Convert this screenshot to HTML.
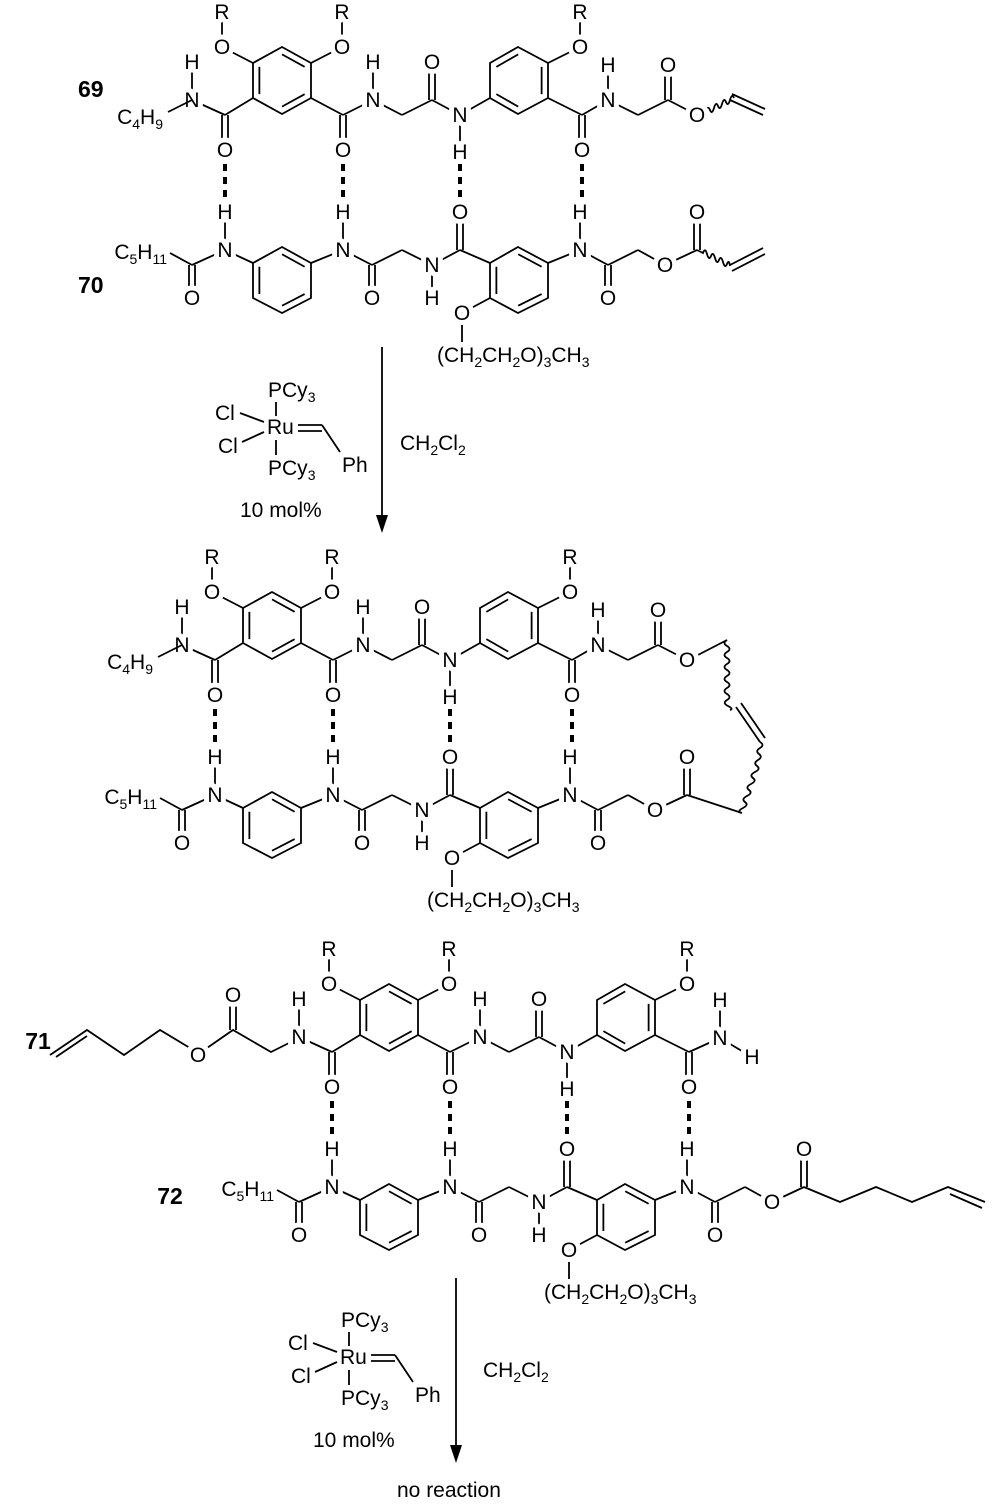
<!DOCTYPE html>
<html><head><meta charset="utf-8"><style>
html,body{margin:0;padding:0;background:#fff}
svg{display:block}
text{font-family:"Liberation Sans",sans-serif;font-size:21px;fill:#000;stroke:#fff;stroke-width:10px;paint-order:stroke;stroke-linejoin:round}
.m{text-anchor:middle}
.e{text-anchor:end}
.b{font-weight:bold;font-size:23px}
.nb{stroke:none}
.h4{stroke-width:4px}
line,path,polyline,polygon{stroke:#000;stroke-width:1.8;fill:none}
.hb{stroke-width:4;stroke-dasharray:7 6}
</style></head><body>
<svg width="1000" height="1506" viewBox="0 0 1000 1506" xmlns="http://www.w3.org/2000/svg">
<defs>
<g id="core">
<line x1="192" y1="100" x2="225" y2="115"/><line x1="192" y1="100" x2="192" y2="62"/>
<line x1="222" y1="115" x2="222" y2="150"/><line x1="228" y1="115" x2="228" y2="150"/>
<line x1="225" y1="115" x2="253" y2="98"/>
<polygon points="253,63 282,47 311,63 311,98 282,114 253,98"/>
<g transform="translate(282 80.5) scale(0.78) translate(-282 -80.5)"><line vector-effect="non-scaling-stroke" x1="253" y1="98" x2="253" y2="63"/><line vector-effect="non-scaling-stroke" x1="282" y1="47" x2="311" y2="63"/><line vector-effect="non-scaling-stroke" x1="311" y1="98" x2="282" y2="114"/></g>
<line x1="253" y1="63" x2="222" y2="47"/><line x1="222" y1="47" x2="222" y2="12"/>
<line x1="311" y1="63" x2="342" y2="47"/><line x1="342" y1="47" x2="342" y2="12"/>
<line x1="311" y1="98" x2="343" y2="115"/>
<line x1="340" y1="115" x2="340" y2="150"/><line x1="346" y1="115" x2="346" y2="150"/>
<line x1="343" y1="115" x2="373" y2="100"/><line x1="373" y1="100" x2="373" y2="62"/>
<line x1="373" y1="100" x2="402" y2="115"/><line x1="402" y1="115" x2="432" y2="100"/>
<line x1="429" y1="100" x2="429" y2="62"/><line x1="435" y1="100" x2="435" y2="62"/>
<line x1="432" y1="100" x2="460" y2="115"/><line x1="460" y1="115" x2="460" y2="152"/>
<line x1="460" y1="115" x2="490" y2="98"/>
<polygon points="490,63 518,47 548,63 548,98 518,114 490,98"/>
<g transform="translate(519 80.5) scale(0.78) translate(-519 -80.5)"><line vector-effect="non-scaling-stroke" x1="490" y1="63" x2="518" y2="47"/><line vector-effect="non-scaling-stroke" x1="548" y1="63" x2="548" y2="98"/><line vector-effect="non-scaling-stroke" x1="518" y1="114" x2="490" y2="98"/></g>
<line x1="548" y1="63" x2="580" y2="47"/><line x1="580" y1="47" x2="580" y2="12"/>
<line x1="548" y1="98" x2="582" y2="115"/>
<line x1="579" y1="115" x2="579" y2="150"/><line x1="585" y1="115" x2="585" y2="150"/>
<line x1="225" y1="212" x2="225" y2="250"/><line x1="225" y1="250" x2="192" y2="265"/>
<line x1="189" y1="265" x2="189" y2="298"/><line x1="195" y1="265" x2="195" y2="298"/>
<line x1="225" y1="250" x2="253" y2="263"/>
<polygon points="253,263 282,247 311,263 311,298 282,313 253,298"/>
<g transform="translate(282 280) scale(0.78) translate(-282 -280)"><line vector-effect="non-scaling-stroke" x1="253" y1="298" x2="253" y2="263"/><line vector-effect="non-scaling-stroke" x1="282" y1="247" x2="311" y2="263"/><line vector-effect="non-scaling-stroke" x1="311" y1="298" x2="282" y2="313"/></g>
<line x1="311" y1="263" x2="343" y2="250"/><line x1="343" y1="250" x2="343" y2="212"/>
<line x1="343" y1="250" x2="372" y2="265"/>
<line x1="369" y1="265" x2="369" y2="298"/><line x1="375" y1="265" x2="375" y2="298"/>
<line x1="372" y1="265" x2="402" y2="250"/><line x1="402" y1="250" x2="432" y2="265"/>
<line x1="432" y1="265" x2="432" y2="298"/><line x1="432" y1="265" x2="460" y2="250"/>
<line x1="457" y1="250" x2="457" y2="212"/><line x1="463" y1="250" x2="463" y2="212"/>
<line x1="460" y1="250" x2="490" y2="263"/>
<polygon points="490,263 518,247 548,263 548,298 518,313 490,298"/>
<g transform="translate(519 280) scale(0.78) translate(-519 -280)"><line vector-effect="non-scaling-stroke" x1="490" y1="298" x2="490" y2="263"/><line vector-effect="non-scaling-stroke" x1="518" y1="247" x2="548" y2="263"/><line vector-effect="non-scaling-stroke" x1="548" y1="298" x2="518" y2="313"/></g>
<line x1="490" y1="298" x2="462" y2="313"/><line x1="462" y1="313" x2="462" y2="342"/>
<line x1="548" y1="263" x2="580" y2="250"/><line x1="580" y1="250" x2="580" y2="212"/>
<line x1="580" y1="250" x2="608" y2="265"/>
<line x1="605" y1="265" x2="605" y2="298"/><line x1="611" y1="265" x2="611" y2="298"/>
<line x1="608" y1="265" x2="638" y2="250"/><line x1="638" y1="250" x2="665" y2="265"/>
<line x1="665" y1="265" x2="697" y2="250"/>
<line x1="694" y1="250" x2="694" y2="212"/><line x1="700" y1="250" x2="700" y2="212"/>
<line class="hb" x1="225" y1="164" x2="225" y2="200"/>
<line class="hb" x1="343" y1="164" x2="343" y2="200"/>
<line class="hb" x1="460" y1="164" x2="460" y2="200"/>
<line class="hb" x1="582" y1="164" x2="582" y2="200"/>
<text class="m" x="222" y="19">R</text><text class="m" x="342" y="19">R</text><text class="m" x="580" y="19">R</text>
<text class="m" x="222" y="54">O</text><text class="m" x="342" y="54">O</text><text class="m" x="580" y="54">O</text>
<text class="m" x="192" y="69">H</text><text class="m" x="192" y="107">N</text>
<text class="m" x="225" y="157">O</text><text class="m" x="343" y="157">O</text>
<text class="m" x="373" y="69">H</text><text class="m" x="373" y="107">N</text>
<text class="m" x="432" y="69">O</text>
<text class="m" x="460" y="122">N</text><text class="m" x="460" y="159">H</text>
<text class="m" x="582" y="157">O</text>
<text class="m" x="225" y="219">H</text><text class="m" x="225" y="257">N</text>
<text class="m" x="192" y="305">O</text>
<text class="m" x="343" y="219">H</text><text class="m" x="343" y="257">N</text>
<text class="m" x="372" y="305">O</text>
<text class="m" x="432" y="272">N</text><text class="m" x="432" y="305">H</text>
<text class="m" x="460" y="219">O</text>
<text class="m" x="462" y="320">O</text>
<text class="m" x="580" y="219">H</text><text class="m" x="580" y="257">N</text>
<text class="m" x="608" y="305">O</text>
<text class="m" x="665" y="272">O</text><text class="m" x="697" y="219">O</text>
<text x="437" y="362" class="h4">(CH<tspan font-size="14" dy="5">2</tspan><tspan dy="-5">CH</tspan><tspan font-size="14" dy="5">2</tspan><tspan dy="-5">O)</tspan><tspan font-size="14" dy="5">3</tspan><tspan dy="-5">CH</tspan><tspan font-size="14" dy="5">3</tspan></text>
<line x1="192" y1="265" x2="170" y2="253"/>
<text class="e h4" x="167" y="259">C<tspan font-size="14" dy="5">5</tspan><tspan dy="-5">H</tspan><tspan font-size="14" dy="5">11</tspan></text>
</g>
<g id="tailA">
<line x1="582" y1="115" x2="608" y2="100"/><line x1="608" y1="100" x2="608" y2="65"/>
<line x1="608" y1="100" x2="638" y2="115"/><line x1="638" y1="115" x2="668" y2="100"/>
<line x1="665" y1="100" x2="665" y2="65"/><line x1="671" y1="100" x2="671" y2="65"/>
<line x1="668" y1="100" x2="697" y2="115"/>
<line x1="192" y1="100" x2="168" y2="112"/>
<text class="m" x="608" y="72">H</text><text class="m" x="608" y="107">N</text>
<text class="m" x="668" y="72">O</text><text class="m" x="697" y="122">O</text>
<text class="e h4" x="163" y="124">C<tspan font-size="14" dy="5">4</tspan><tspan dy="-5">H</tspan><tspan font-size="14" dy="5">9</tspan></text>
</g>
</defs>

<path d="M706,111 q2,-6 4,-1 t4,-2 t4,-2 t4,-2 t4,-2 t4,-2 t4,-2"/>
<line x1="730" y1="100" x2="763" y2="115"/><line x1="732" y1="94" x2="765" y2="109"/>
<path d="M697,250 l6,3 q2,-6 4,1 t4,2 t4,2 t4,2 t4,2 t4,2 t3,2"/>
<line x1="730" y1="265" x2="763" y2="248"/><line x1="732" y1="271" x2="765" y2="254"/>
<use href="#core"/>
<use href="#tailA"/>
<text class="b nb" x="78" y="97">69</text>
<text class="b nb" x="78" y="293">70</text>

<line x1="382" y1="347" x2="382" y2="520"/>
<polygon points="376,515 388,515 382,533" style="fill:#000;stroke:none"/>
<line x1="276" y1="402" x2="276" y2="416"/>
<line x1="240" y1="413" x2="264" y2="422"/>
<line x1="242" y1="442" x2="264" y2="432"/>
<line x1="276" y1="440" x2="276" y2="455"/>
<line x1="298" y1="425" x2="322" y2="425"/><line x1="298" y1="431" x2="322" y2="431"/>
<line x1="322" y1="425" x2="340" y2="452"/>
<text x="268" y="397" class="nb">PCy<tspan font-size="14" dy="5">3</tspan></text>
<text x="215" y="420" class="nb">Cl</text>
<text x="267" y="434" class="nb">Ru</text>
<text x="218" y="453" class="nb">Cl</text>
<text x="268" y="475" class="nb">PCy<tspan font-size="14" dy="5">3</tspan></text>
<text x="342" y="472" class="nb">Ph</text>
<text x="240" y="517" class="nb">10 mol%</text>
<text x="400" y="450" class="nb">CH<tspan font-size="14" dy="5">2</tspan><tspan dy="-5">Cl</tspan><tspan font-size="14" dy="5">2</tspan></text>

<g transform="translate(-10 545)">
<line x1="706" y1="111" x2="737" y2="95"/>
<path d="M737,95 q-5,3 0,6 t0,6 t0,6 t0,6 t0,6 t0,6 t0,6 t0,6 t0,6 t0,6 t1,6 t2,4"/>
<line x1="746" y1="162" x2="770" y2="197"/><line x1="751" y1="158" x2="775" y2="193"/>
<path d="M770,197 q5,3 0,6 t-1,6 t-1,6 t-1,6 t-2,6 t-2,6 t-2,6 t-2,6 t-2,6 t-2,6 t-2,6 t-2,5"/>
<line x1="697" y1="250" x2="752" y2="268"/>
<use href="#core"/>
<use href="#tailA"/>
</g>

<polyline points="299,1038 271,1052 233,1030 207,1048"/>
<line x1="230" y1="1030" x2="230" y2="995"/><line x1="236" y1="1030" x2="236" y2="995"/>
<polyline points="190,1048 160,1030 124,1055 87,1030 50,1055"/>
<line x1="87" y1="1036" x2="56" y2="1057"/>
<polyline points="804,1187 840,1202 876,1187 912,1202 948,1187 985,1202"/>
<line x1="950" y1="1194" x2="982" y2="1208"/>
<line x1="689" y1="1052" x2="720" y2="1038"/>
<line x1="720" y1="1038" x2="720" y2="1000"/>
<line x1="720" y1="1038" x2="752" y2="1057"/>
<g transform="translate(107 937)">
<use href="#core"/>
</g>
<text class="m" x="233" y="1002">O</text>
<text class="m" x="198" y="1062">O</text>
<text class="m" x="720" y="1045">N</text>
<text class="m" x="720" y="1007">H</text>
<text class="m" x="752" y="1064">H</text>
<text class="b nb" x="38" y="1049" style="text-anchor:middle">71</text>
<text class="b nb" x="170" y="1204" style="text-anchor:middle">72</text>

<line x1="456" y1="1278" x2="456" y2="1450"/>
<polygon points="450,1445 462,1445 456,1463" style="fill:#000;stroke:none"/>
<g transform="translate(73 930)">
<line x1="276" y1="402" x2="276" y2="416"/>
<line x1="240" y1="413" x2="264" y2="422"/>
<line x1="242" y1="442" x2="264" y2="432"/>
<line x1="276" y1="440" x2="276" y2="455"/>
<line x1="298" y1="425" x2="322" y2="425"/><line x1="298" y1="431" x2="322" y2="431"/>
<line x1="322" y1="425" x2="340" y2="452"/>
<text x="268" y="397" class="nb">PCy<tspan font-size="14" dy="5">3</tspan></text>
<text x="215" y="420" class="nb">Cl</text>
<text x="267" y="434" class="nb">Ru</text>
<text x="218" y="453" class="nb">Cl</text>
<text x="268" y="475" class="nb">PCy<tspan font-size="14" dy="5">3</tspan></text>
<text x="342" y="472" class="nb">Ph</text>
<text x="240" y="517" class="nb">10 mol%</text>
</g>
<text x="483" y="1377" class="nb">CH<tspan font-size="14" dy="5">2</tspan><tspan dy="-5">Cl</tspan><tspan font-size="14" dy="5">2</tspan></text>
<text x="397" y="1497" class="nb">no reaction</text>
</svg>
</body></html>
